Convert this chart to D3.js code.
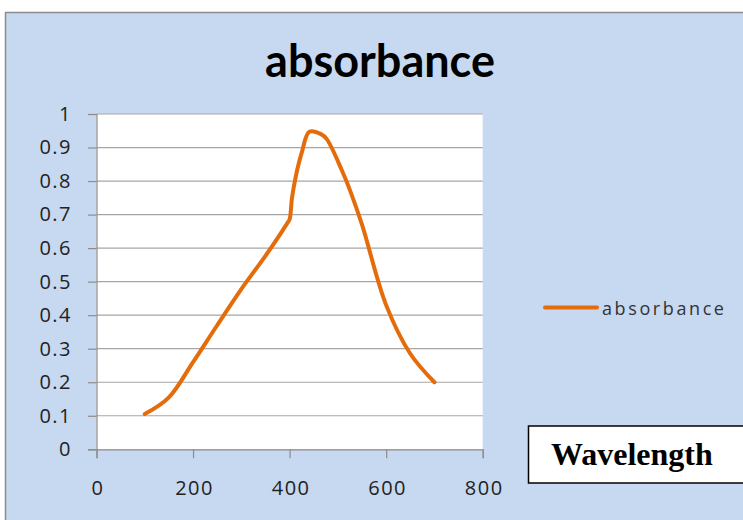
<!DOCTYPE html>
<html><head><meta charset="utf-8">
<script src="https://cdn.jsdelivr.net/npm/d3@7"></script>
<style>body{margin:0;background:#fff}svg{display:block}</style>
</head><body>
<script>
const wavelengths = [100,150,200,250,300,350,395,400,405,413,425,441,465,477,508,525,550,600,650,700];
const absorbance  = [0.105,0.155,0.26,0.37,0.478,0.577,0.674,0.686,0.75,0.815,0.884,0.947,0.94,0.925,0.833,0.773,0.67,0.43,0.285,0.2];
const xTicks = [0,200,400,600,800];
const yTicks = [0,0.1,0.2,0.3,0.4,0.5,0.6,0.7,0.8,0.9,1];
const titleText = "absorbance";
const seriesName = "absorbance";
const axisBoxText = "Wavelength";

const W = 743, H = 520;
const svg = d3.select("body").append("svg").attr("width", W).attr("height", H);

// chart frame
svg.append("rect").attr("x", 5.5).attr("y", 12.5).attr("width", W).attr("height", H)
  .attr("fill", "#c6d9f0").attr("stroke", "#8c8c8c").attr("stroke-width", 1.5);

const x = d3.scaleLinear().domain([0, 800]).range([96.5, 482.7]);
const y = d3.scaleLinear().domain([0, 1]).range([449.3, 114]);

// plot area
svg.append("rect").attr("x", x(0)).attr("y", y(1)).attr("width", x(800) - x(0)).attr("height", y(0) - y(1)).attr("fill", "#fff");

// gridlines
svg.append("g").selectAll("line").data(yTicks.filter(d => d > 0)).join("line")
  .attr("x1", x(0)).attr("x2", x(800)).attr("y1", d => y(d)).attr("y2", d => y(d))
  .attr("stroke", "#a6a6a6").attr("stroke-width", 1.2);

const fontAx = "'Open Sans', 'Noto Sans', sans-serif";
const yAxis = svg.append("g").attr("transform", `translate(${x(0)},0)`)
  .call(d3.axisLeft(y).tickValues(yTicks).tickSize(8.5).tickPadding(16).tickFormat(d => String(+d.toFixed(1))));
const xAxis = svg.append("g").attr("transform", `translate(0,${y(0)})`)
  .call(d3.axisBottom(x).tickValues(xTicks).tickSize(9).tickPadding(23));
[yAxis, xAxis].forEach(g => {
  g.select(".domain").attr("stroke", "#8c8c8c").attr("stroke-width", 1.2);
  g.selectAll(".tick line").attr("stroke", "#8c8c8c").attr("stroke-width", 1.2);
  g.selectAll("text").attr("font-family", fontAx).attr("font-size", 20).attr("letter-spacing", 1.5).attr("fill", "#222");
});
xAxis.selectAll("text").attr("dx", 1);

// line
const line = d3.line().x((d, i) => x(wavelengths[i])).y(d => y(d)).curve(d3.curveCatmullRom.alpha(0.5));
svg.append("path").datum(absorbance).attr("d", line).attr("fill", "none")
  .attr("stroke", "#e46c0a").attr("stroke-width", 4).attr("stroke-linecap", "round").attr("stroke-linejoin", "round");

// title
svg.append("text").attr("x", 380).attr("y", 77).attr("text-anchor", "middle")
  .attr("font-family", "Lato, 'Open Sans', sans-serif").attr("font-weight", "bold").attr("font-size", 45)
  .attr("fill", "#000").text(titleText);

// legend
svg.append("line").attr("x1", 545).attr("x2", 597).attr("y1", 307.5).attr("y2", 307.5)
  .attr("stroke", "#e46c0a").attr("stroke-width", 4).attr("stroke-linecap", "round");
svg.append("text").attr("x", 602).attr("y", 315).attr("font-family", fontAx).attr("font-size", 18)
  .attr("letter-spacing", 2.6).attr("fill", "#333").text(seriesName);

// Wavelength box
svg.append("rect").attr("x", 528.5).attr("y", 426).attr("width", 230).attr("height", 57)
  .attr("fill", "#fff").attr("stroke", "#000").attr("stroke-width", 1.5);
svg.append("text").attr("x", 551).attr("y", 465).attr("font-family", "'Liberation Serif', 'Times New Roman', serif")
  .attr("font-weight", "bold").attr("font-size", 32).attr("fill", "#000").text(axisBoxText);
</script>
</body></html>
